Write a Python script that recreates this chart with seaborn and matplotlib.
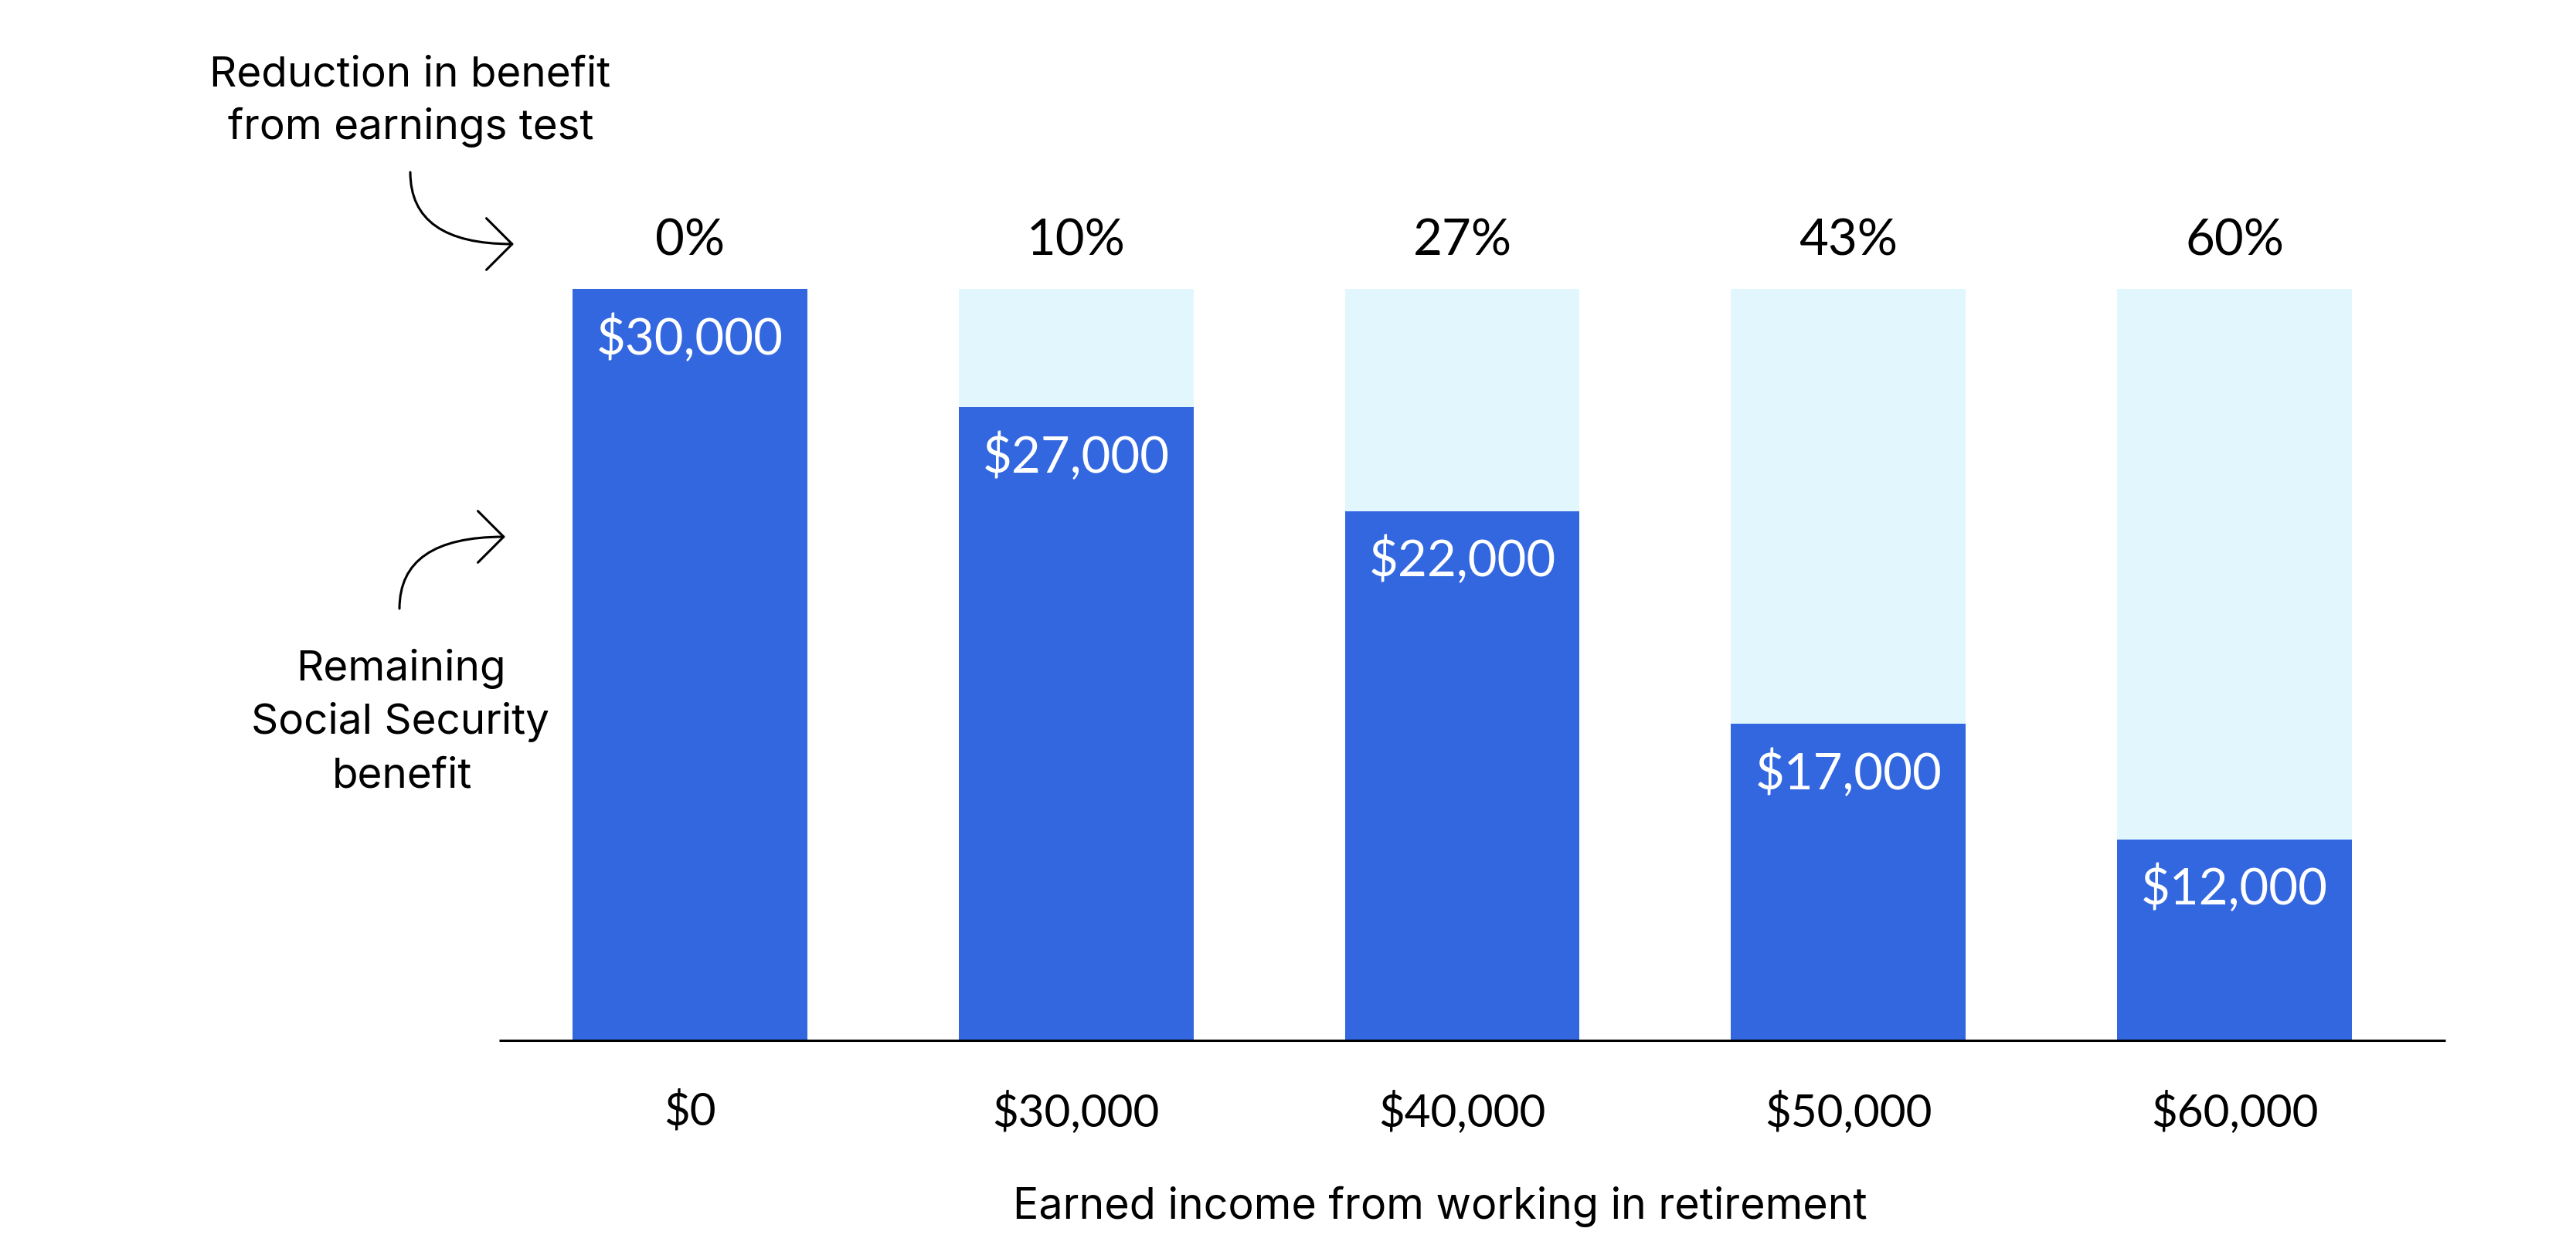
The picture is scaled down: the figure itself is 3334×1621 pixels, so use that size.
import matplotlib
matplotlib.use("Agg")
import matplotlib.pyplot as plt
from matplotlib.patches import FancyArrowPatch
import seaborn as sns
import pandas as pd

# ---- data ----
income_labels = ["$0", "$30,000", "$40,000", "$50,000", "$60,000"]
original_benefit = [30000, 30000, 30000, 30000, 30000]
remaining_drawn = [30000, 25270, 21130, 12640, 8030]   # heights as drawn
remaining_labels = ["$30,000", "$27,000", "$22,000", "$17,000", "$12,000"]
reduction_labels = ["0%", "10%", "27%", "43%", "60%"]

DARK = "#3367E0"
LIGHT = "#E2F6FD"
W, H = 3334, 1621
WORD_FONT = ["Inter", "Lato", "DejaVu Sans"]

sns.set_theme(style="white")
plt.rcParams["font.family"] = ["Lato", "DejaVu Sans"]

df = pd.DataFrame({"income": income_labels, "full": original_benefit,
                   "remaining": remaining_drawn})

fig = plt.figure(figsize=(W / 100, H / 100), dpi=100)
ax = fig.add_axes([646 / W, 1 - 1347 / H, (3165 - 646) / W, (1347 - 374) / H])

sns.barplot(data=df, x="income", y="full", color=LIGHT, saturation=1,
            width=0.608, linewidth=0, ax=ax)
sns.barplot(data=df, x="income", y="remaining", color=DARK, saturation=1,
            width=0.608, linewidth=0, ax=ax)

ax.set_xlim(-0.494, 4.546)
ax.set_ylim(0, 30000)
for s in ["top", "right", "left"]:
    ax.spines[s].set_visible(False)
ax.spines["bottom"].set_color("black")
ax.spines["bottom"].set_linewidth(2.2)
ax.spines["bottom"].set_capstyle("butt")
ax.set_yticks([])
ax.set_xlabel("")
ax.set_ylabel("")
ax.tick_params(axis="x", length=0, pad=47, labelsize=42, labelcolor="black")

# percent labels above bars
for i, (lab, full) in enumerate(zip(reduction_labels, original_benefit)):
    ax.annotate(lab, (i, full), xytext=(0, 31), textcoords="offset points",
                ha="center", va="baseline", fontsize=47, color="black")

# value labels inside dark bars
for i, (lab, h) in enumerate(zip(remaining_labels, remaining_drawn)):
    ax.annotate(lab, (i, h), xytext=(0, -61), textcoords="offset points",
                ha="center", va="baseline", fontsize=47, color="white")

# x axis title
fig.text(1864 / W, 1 - 1578 / H, "Earned income from working in retirement",
         ha="center", va="baseline", fontsize=40, color="black",
         family=WORD_FONT)

# side annotations
for txt, x, y in [("Reduction in benefit", 531, 111),
                  ("from earnings test", 532, 180),
                  ("Remaining", 519, 881),
                  ("Social Security", 518, 950),
                  ("benefit", 520, 1020)]:
    fig.text(x / W, 1 - y / H, txt, ha="center", va="baseline",
             fontsize=39.5, color="black", family=WORD_FONT)


def fp(px, py):
    return (px / W, 1 - py / H)


arrow_style = "->,head_length=1.2,head_width=1.2"
a1 = FancyArrowPatch(fp(531, 223), fp(665, 316), transform=fig.transFigure,
                     connectionstyle="angle3,angleA=-90,angleB=0",
                     arrowstyle=arrow_style, mutation_scale=20,
                     lw=2.2, color="black", shrinkA=0, shrinkB=0)
a2 = FancyArrowPatch(fp(517, 788), fp(654, 695), transform=fig.transFigure,
                     connectionstyle="angle3,angleA=90,angleB=0",
                     arrowstyle=arrow_style, mutation_scale=20,
                     lw=2.2, color="black", shrinkA=0, shrinkB=0)
fig.patches.extend([a1, a2])

fig.savefig("out.png", dpi=100, facecolor="white")
